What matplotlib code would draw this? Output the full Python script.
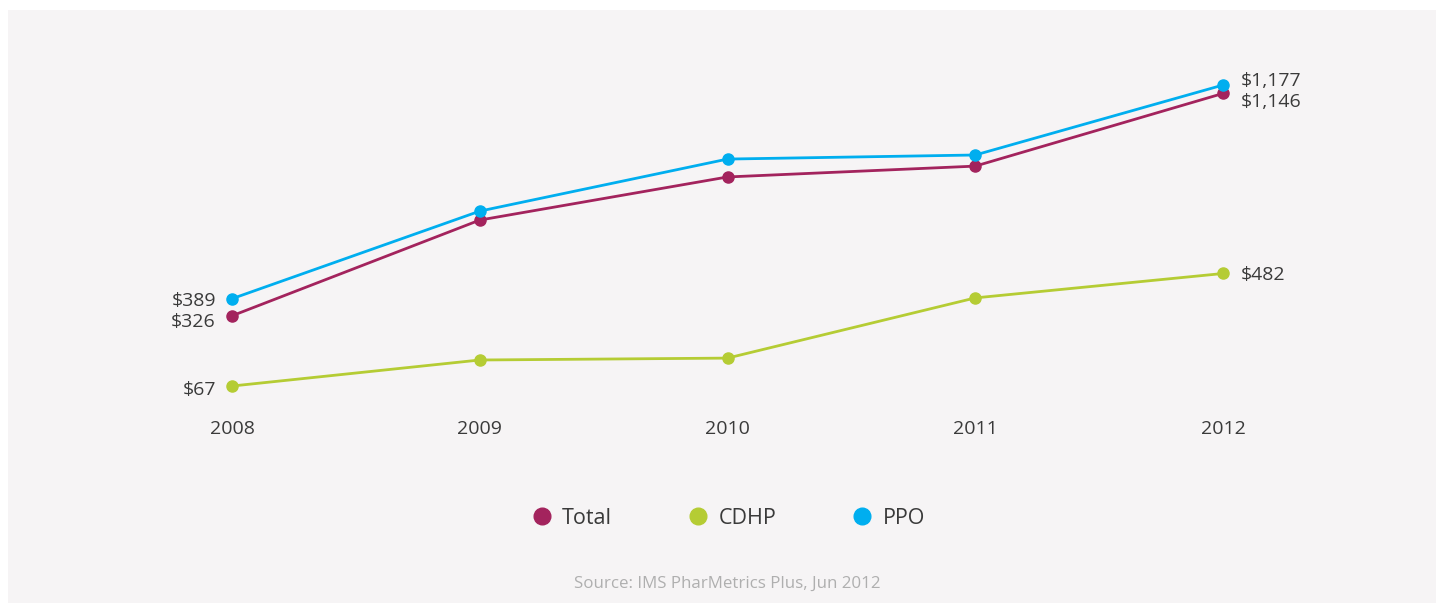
import matplotlib
matplotlib.use("Agg")
import matplotlib.pyplot as plt
from matplotlib.patches import Rectangle
from matplotlib.lines import Line2D

years = [2008, 2009, 2010, 2011, 2012]
total = [326, 679, 838, 878, 1146]
cdhp = [67, 163, 170, 392, 482]
ppo = [389, 712, 904, 919, 1177]
series_names = ["Total", "CDHP", "PPO"]
colors = {"Total": "#A3235D", "CDHP": "#B5CC34", "PPO": "#00AEEF"}
source_text = "Source: IMS PharMetrics Plus, Jun 2012"

plt.rcParams['font.family'] = ['Open Sans', 'DejaVu Sans']
W, H = 1436, 605
fig = plt.figure(figsize=(W / 100, H / 100), dpi=100, facecolor="white")
fig.patches.append(Rectangle((8 / W, 2 / H), 1 - 8 / W, (H - 12) / H,
                             transform=fig.transFigure, facecolor="#F6F4F5",
                             edgecolor="none", zorder=-10))

ax = fig.add_axes([232 / W, (H - 404.2) / H, (1223 - 232) / W, 325.4 / H])
ax.set_facecolor("none")
ax.set_xlim(2008, 2012)
ax.set_ylim(0, 1200)
for s in ax.spines.values():
    s.set_visible(False)
ax.set_yticks([])
ax.set_xticks(years)
ax.set_xticklabels([str(y) for y in years])
ax.tick_params(axis="x", length=0, pad=11.5, labelsize=14, labelcolor="#3A3A3A")

data = {"Total": total, "CDHP": cdhp, "PPO": ppo}
for name in ["CDHP", "Total", "PPO"]:
    ax.plot(years, data[name], color=colors[name], lw=2.0, marker="o",
            markersize=8, clip_on=False, zorder=3)

txt = dict(fontsize=14, color="#3A3A3A", va="center")
def lab(x, y, s, dx, dy, ha):
    ax.annotate(s, (x, y), xytext=(dx, dy), textcoords="offset pixels", ha=ha, **txt)

lab(years[0], ppo[0], f"${ppo[0]:,}", -16, -2, "right")
lab(years[0], total[0], f"${total[0]:,}", -16, -6, "right")
lab(years[0], cdhp[0], f"${cdhp[0]:,}", -16, -4, "right")
lab(years[-1], ppo[-1], f"${ppo[-1]:,}", 18, 4, "left")
lab(years[-1], total[-1], f"${total[-1]:,}", 18, -9, "left")
lab(years[-1], cdhp[-1], f"${cdhp[-1]:,}", 18, -2, "left")

handles = [Line2D([], [], ls="none", marker="o", markersize=12,
                  color=colors[n]) for n in series_names]
leg = fig.legend(handles, series_names, loc="center", ncol=3,
                 bbox_to_anchor=(728 / W, (H - 518) / H), frameon=False,
                 fontsize=15.5, handletextpad=0.45, columnspacing=3.5,
                 handlelength=1.0)
for t in leg.get_texts():
    t.set_color("#3A3A3A")

fig.text(727 / W, (H - 584) / H, source_text, ha="center", va="center",
         fontsize=12.2, color="#AFAFAF")

fig.savefig("out.png", dpi=100, facecolor="white")
